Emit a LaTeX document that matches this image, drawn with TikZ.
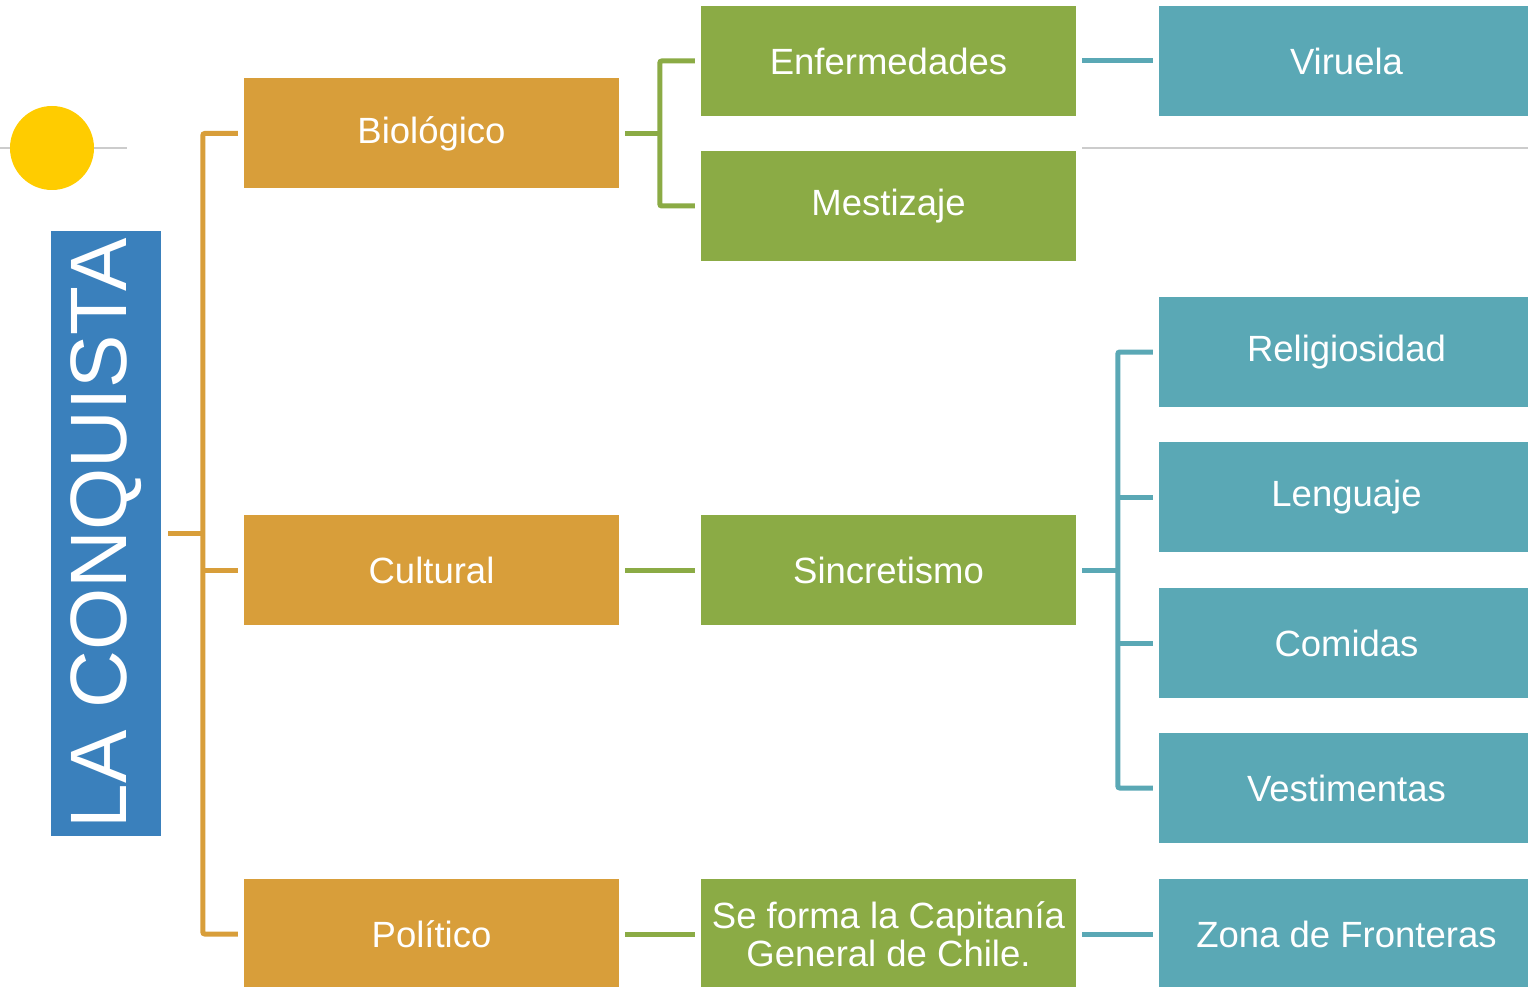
\documentclass[tikz,border=0pt]{standalone}
\usepackage{fontspec}
\setmainfont{Liberation Sans}
\usepackage{xcolor}
\definecolor{orange}{HTML}{D89E3A}
\definecolor{green}{HTML}{8BAB45}
\definecolor{teal}{HTML}{5AA8B5}
\definecolor{blue}{HTML}{3A80BC}
\definecolor{sun}{HTML}{FFCC00}
\definecolor{rule}{HTML}{CCCCCC}
\usetikzlibrary{positioning}

\begin{document}
\begin{tikzpicture}[x=1pt, y=-1pt,
  every node/.style={font=\fontsize{36.5}{38}\selectfont, text=white},
  box/.style={draw=none, inner sep=0pt, minimum width=375pt, minimum height=110pt, align=center},
  olink/.style={orange, line width=5pt, rounded corners=2pt},
  glink/.style={green, line width=5pt, rounded corners=2pt},
  tlink/.style={teal, line width=5pt, rounded corners=2pt}]
  \useasboundingbox (0,0) rectangle (1528,987);

  % decorative rules and sun
  \draw[rule, line width=2pt] (0,148) -- (127,148);
  \draw[rule, line width=2pt] (1082,148) -- (1528,148);
  \fill[sun] (52,148) circle (42pt);

  % title box
  \node[fill=blue, inner sep=0pt, rotate=90, minimum width=605pt, minimum height=110pt,
        font=\fontsize{80}{82}\selectfont] (conquista) at (106,533.5) {\raisebox{-2pt}{LA CONQUISTA}};

  % first level
  \node[box, fill=orange] (bio) at (431.5,133.5) {Biológico};
  \node[box, fill=orange] (cult) at (431.5,570) {Cultural};
  \node[box, fill=orange] (pol) at (431.5,934) {Político};

  % second level
  \node[box, fill=green] (enf) at (888.5,61) {Enfermedades};
  \node[box, fill=green] (mes) at (888.5,206) {Mestizaje};
  \node[box, fill=green] (sinc) at (888.5,570) {Sincretismo};
  \node[box, fill=green] (cap) at (888.5,934) {Se forma la Capitanía\\General de Chile.};

  % third level
  \node[box, fill=teal] (vir) at (1346.5,61) {Viruela};
  \node[box, fill=teal] (rel) at (1346.5,352) {Religiosidad};
  \node[box, fill=teal] (leng) at (1346.5,497) {Lenguaje};
  \node[box, fill=teal] (com) at (1346.5,643) {Comidas};
  \node[box, fill=teal] (ves) at (1346.5,788) {Vestimentas};
  \node[box, fill=teal] (zona) at (1346.5,934) {Zona de Fronteras};

  % title -> first level
  \draw[olink] ([xshift=7pt]conquista.south) -- ++(35,0);
  \draw[olink] ([xshift=-6pt]bio.west) -| ([xshift=-41pt]pol.west) -- ([xshift=-6pt]pol.west);
  \draw[olink] ([xshift=-6pt]cult.west) -- ++(-35,0);

  % first -> second level
  \draw[glink] ([xshift=6pt]bio.east) -- ++(35,0);
  \draw[glink] ([xshift=-6pt]enf.west) -| ([xshift=-41pt]mes.west) -- ([xshift=-6pt]mes.west);
  \draw[glink] ([xshift=6pt]cult.east) -- ([xshift=-6pt]sinc.west);
  \draw[glink] ([xshift=6pt]pol.east) -- ([xshift=-6pt]cap.west);

  % second -> third level
  \draw[tlink] ([xshift=6pt]enf.east) -- ([xshift=-6pt]vir.west);
  \draw[tlink] ([xshift=6pt]sinc.east) -- ++(36,0);
  \draw[tlink] ([xshift=-6pt]rel.west) -| ([xshift=-41pt]ves.west) -- ([xshift=-6pt]ves.west);
  \draw[tlink] ([xshift=-6pt]leng.west) -- ++(-35,0);
  \draw[tlink] ([xshift=-6pt]com.west) -- ++(-35,0);
  \draw[tlink] ([xshift=6pt]cap.east) -- ([xshift=-6pt]zona.west);
\end{tikzpicture}
\end{document}
